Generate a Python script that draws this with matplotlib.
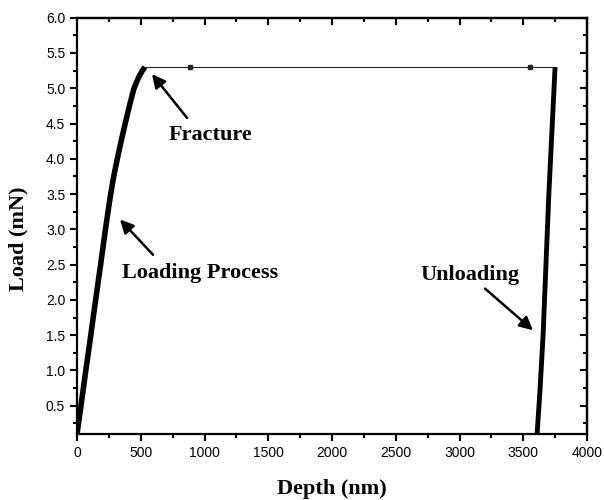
"""
Load-depth curve from nanoindentation: loading, fracture plateau, unloading.
"""
import matplotlib
matplotlib.use("Agg")
import matplotlib.pyplot as plt
from matplotlib.ticker import MultipleLocator

# loading branch (nm, mN)
load_depth = [0, 31, 69, 108, 146, 185, 223, 243, 264, 288, 316, 346, 378, 411, 447, 482, 512, 533]
load_force = [0.1, 0.5, 1.0, 1.5, 2.0, 2.5, 3.0, 3.25, 3.5, 3.75, 4.0, 4.25, 4.5, 4.75, 5.0, 5.15, 5.25, 5.3]

# fracture plateau (sparse points, drawn as thin line)
hold_depth = [533, 886, 3553, 3749]
hold_force = [5.3, 5.3, 5.3, 5.3]

# unloading branch
unload_depth = [3749, 3700, 3655, 3630, 3608]
unload_force = [5.3, 3.5, 1.5, 0.7, 0.1]

SERIF = ["Liberation Serif", "DejaVu Serif"]
SANS = ["Liberation Sans", "DejaVu Sans"]

if __name__ == "__main__":
    plt.rcParams["font.family"] = SANS
    fig = plt.figure(figsize=(6.04, 5.0), dpi=100)
    ax = fig.add_axes([0.1275, 0.132, 0.8445, 0.8326])

    ax.plot(load_depth, load_force, color="black", lw=4.0, solid_capstyle="butt", zorder=3)
    ax.plot(hold_depth, hold_force, color="#222222", lw=0.8, marker="s", markersize=3,
            markevery=[1, 2], zorder=2)
    ax.plot(unload_depth, unload_force, color="black", lw=3.5, solid_capstyle="butt", zorder=3)

    ax.set_xlim(0, 4000)
    ax.set_ylim(0.1, 6.0)
    ax.xaxis.set_major_locator(MultipleLocator(500))
    ax.xaxis.set_minor_locator(MultipleLocator(250))
    ax.yaxis.set_major_locator(MultipleLocator(0.5))
    ax.yaxis.set_minor_locator(MultipleLocator(0.25))
    ax.set_yticks([0.5 * k for k in range(1, 13)])
    ax.set_yticklabels([f"{0.5 * k:.1f}" for k in range(1, 13)])

    for s in ax.spines.values():
        s.set_linewidth(1.6)
    ax.tick_params(which="both", direction="out", width=1.5, labelsize=10,
                   top=False, right=False)
    ax.tick_params(which="major", length=5)
    ax.tick_params(which="minor", length=3)
    # mirrored ticks on top/right point inward
    sec_x = ax.secondary_xaxis("top")
    sec_x.xaxis.set_major_locator(MultipleLocator(500))
    sec_x.xaxis.set_minor_locator(MultipleLocator(250))
    sec_x.tick_params(which="both", direction="in", width=1.5, labeltop=False)
    sec_x.tick_params(which="major", length=5)
    sec_x.tick_params(which="minor", length=3)
    sec_y = ax.secondary_yaxis("right")
    sec_y.yaxis.set_major_locator(MultipleLocator(0.5))
    sec_y.yaxis.set_minor_locator(MultipleLocator(0.25))
    sec_y.tick_params(which="both", direction="in", width=1.5, labelright=False)
    sec_y.tick_params(which="major", length=5)
    sec_y.tick_params(which="minor", length=3)
    for sec in (sec_x, sec_y):
        for s in sec.spines.values():
            s.set_linewidth(1.6)

    ax.set_xlabel("Depth (nm)", family=SERIF, fontsize=16, fontweight="bold", labelpad=14)
    ax.set_ylabel("Load (mN)", family=SERIF, fontsize=16, fontweight="bold")
    ax.yaxis.set_label_coords(-0.096, 0.468)

    arrow = dict(arrowstyle="-|>", color="black", lw=1.8, mutation_scale=20, shrinkA=0, shrinkB=0)
    ax.text(1050, 4.34, "Fracture", family=SERIF, fontsize=16, fontweight="bold",
            ha="center", va="center")
    ax.annotate("", xy=(588, 5.2), xytext=(863, 4.58), arrowprops=arrow)
    ax.text(965, 2.38, "Loading Process", family=SERIF, fontsize=16, fontweight="bold",
            ha="center", va="center")
    ax.annotate("", xy=(337, 3.14), xytext=(596, 2.64), arrowprops=arrow)
    ax.text(3082, 2.36, "Unloading", family=SERIF, fontsize=16, fontweight="bold",
            ha="center", va="center")
    ax.annotate("", xy=(3576, 1.57), xytext=(3200, 2.16), arrowprops=arrow)

    plt.savefig("out.png", dpi=100)
